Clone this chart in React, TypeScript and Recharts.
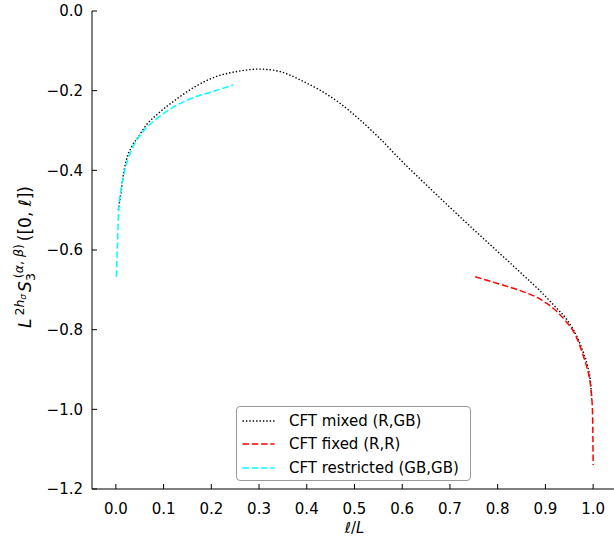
import { LineChart, Line, XAxis, YAxis, Legend } from 'recharts';

const seriesNames = ['CFT mixed (R,GB)', 'CFT fixed (R,R)', 'CFT restricted (GB,GB)'];

// CFT mixed (R,GB)
const mixedX = [0.005, 0.0105, 0.015, 0.022, 0.033, 0.047, 0.064, 0.089, 0.124, 0.166, 0.214, 0.24, 0.263, 0.28, 0.3, 0.32, 0.344, 0.365, 0.386, 0.428, 0.47, 0.512, 0.553, 0.6, 0.65, 0.7, 0.75, 0.8, 0.85, 0.889, 0.922, 0.945, 0.959, 0.97, 0.98, 0.988, 0.994, 0.997];
const mixedY = [-0.5, -0.458, -0.416, -0.374, -0.341, -0.316, -0.286, -0.257, -0.224, -0.19, -0.163, -0.155, -0.15, -0.1472, -0.1458, -0.1472, -0.152, -0.161, -0.173, -0.199, -0.232, -0.274, -0.32, -0.378, -0.436, -0.493, -0.549, -0.604, -0.659, -0.703, -0.744, -0.775, -0.801, -0.828, -0.859, -0.89, -0.926, -0.975];

// CFT fixed (R,R)
const fixedX = [0.753, 0.805, 0.833, 0.861, 0.882, 0.903, 0.917, 0.931, 0.945, 0.959, 0.97, 0.98, 0.988, 0.994, 0.997, 0.9985, 0.9995, 1.0];
const fixedY = [-0.667, -0.686, -0.696, -0.708, -0.719, -0.734, -0.747, -0.763, -0.782, -0.805, -0.833, -0.868, -0.9, -0.935, -0.97, -1.0, -1.07, -1.14];

// CFT restricted (GB,GB)
const restrictedX = [0.001, 0.0035, 0.006, 0.012, 0.019, 0.033, 0.054, 0.082, 0.117, 0.159, 0.201, 0.246];
const restrictedY = [-0.667, -0.583, -0.5, -0.441, -0.399, -0.349, -0.307, -0.274, -0.244, -0.219, -0.203, -0.186];

const xTicks = [0, 0.1, 0.2, 0.3, 0.4, 0.5, 0.6, 0.7, 0.8, 0.9, 1.0];
const yTicks = [0, -0.2, -0.4, -0.6, -0.8, -1.0, -1.2];

const toPoints = (xs: number[], ys: number[]) => xs.map((x, i) => ({ x, y: ys[i] }));

const mixedData = toPoints(mixedX, mixedY);
const fixedData = toPoints(fixedX, fixedY);
const restrictedData = toPoints(restrictedX, restrictedY);

const FONT = 'DejaVu Sans';

const fmt = (v: number) => {
  const s = Math.abs(v) < 1e-9 ? '0.0' : v.toFixed(1);
  return s.replace('-', '\u2212');
};

const tickStyle = { fill: '#000', fontSize: 15, fontFamily: FONT };

const XTitle = () => (
  <text x={354.5} y={533} textAnchor="middle" fontFamily={FONT} fontSize={15} fill="#000">
    <tspan fontStyle="italic">ℓ</tspan>/<tspan fontStyle="italic">L</tspan>
  </text>
);

const YTitle = () => (
  <text transform="translate(31,257) rotate(-90)" textAnchor="middle" fontFamily={FONT} fontSize={17} fill="#000">
    <tspan fontStyle="italic">L</tspan>
    <tspan fontSize={12.5} dx={3} dy={-7.5}>2</tspan>
    <tspan fontSize={12.5} fontStyle="italic">h</tspan>
    <tspan fontSize={9} fontStyle="italic" dy={2.5}>σ</tspan>
    <tspan fontStyle="italic" dx={2} dy={5}>S</tspan>
    <tspan fontSize={12.5} dy={4}>3</tspan>
    <tspan fontSize={12.5} dx={-5} dy={-12}>(<tspan fontStyle="italic">α</tspan>, <tspan fontStyle="italic">β</tspan>)</tspan>
    <tspan dx={3} dy={8}>([0, <tspan fontStyle="italic">ℓ</tspan>])</tspan>
  </text>
);

const LegendBox = ({ payload }: any) => {
  const items = seriesNames
    .map((n) => (payload || []).find((p: any) => p.value === n))
    .filter(Boolean);
  return (
    <div
      style={{
        boxSizing: 'border-box',
        width: 235,
        height: 75,
        border: '1px solid #999',
        borderRadius: 4,
        background: '#fff',
        paddingTop: 2,
        fontFamily: FONT,
        fontSize: 15,
        color: '#000',
      }}
    >
      {items.map((entry: any) => (
        <div key={entry.value} style={{ display: 'flex', alignItems: 'center', height: 23.6 }}>
          <svg width={52} height={10} style={{ flex: 'none' }}>
            <line
              x1={5.5}
              x2={37.5}
              y1={5}
              y2={5}
              stroke={entry.color}
              strokeWidth={entry.payload.strokeWidth}
              strokeDasharray={entry.payload.strokeDasharray}
            />
          </svg>
          <span style={{ whiteSpace: 'nowrap' }}>{entry.value}</span>
        </div>
      ))}
    </div>
  );
};

export default function App() {
  return (
    <div style={{ position: 'fixed', left: 0, top: 0, width: 614, height: 542, overflow: 'hidden', background: '#fff' }}>
      <LineChart width={640} height={542} margin={{ top: 11, right: 23, bottom: 13, left: 22 }}>
        <XAxis
          type="number"
          dataKey="x"
          domain={[-0.05, 1.05]}
          ticks={xTicks}
          tickFormatter={fmt}
          tickSize={-5}
          tickMargin={19}
          height={40}
          stroke="#000"
          tick={tickStyle}
          allowDataOverflow
          label={<XTitle />}
        />
        <XAxis
          xAxisId="top"
          orientation="top"
          type="number"
          dataKey="x"
          domain={[-0.05, 1.05]}
          ticks={xTicks}
          tickSize={-5}
          height={0}
          stroke="#000"
          tick={false}
          allowDataOverflow
        />
        <YAxis
          type="number"
          dataKey="y"
          domain={[-1.2, 0]}
          ticks={yTicks}
          tickFormatter={fmt}
          tickSize={-5}
          tickMargin={14}
          width={70}
          stroke="#000"
          tick={tickStyle}
          allowDataOverflow
          label={<YTitle />}
        />
        <YAxis
          yAxisId="right"
          orientation="right"
          type="number"
          dataKey="y"
          domain={[-1.2, 0]}
          ticks={yTicks}
          tickSize={-5}
          width={0}
          stroke="#000"
          tick={false}
          allowDataOverflow
        />
        <Line
          data={mixedData}
          dataKey="y"
          name={seriesNames[0]}
          type="monotone"
          stroke="#000"
          strokeWidth={1.4}
          strokeDasharray="1.4 2"
          dot={false}
          isAnimationActive={false}
        />
        <Line
          data={fixedData}
          dataKey="y"
          name={seriesNames[1]}
          type="monotone"
          stroke="#ff0000"
          strokeWidth={1.5}
          strokeDasharray="6.5 2.8"
          dot={false}
          isAnimationActive={false}
        />
        <Line
          data={restrictedData}
          dataKey="y"
          name={seriesNames[2]}
          type="monotone"
          stroke="#00ffff"
          strokeWidth={1.5}
          strokeDasharray="6.5 2.8"
          dot={false}
          isAnimationActive={false}
        />
        <Legend
          layout="vertical"
          align="center"
          verticalAlign="middle"
          content={<LegendBox />}
          wrapperStyle={{ left: 236, top: 406, width: 235, height: 75 }}
        />
      </LineChart>
    </div>
  );
}
